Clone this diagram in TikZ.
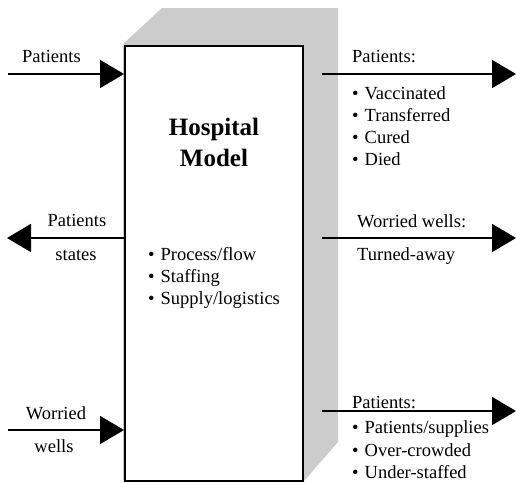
\documentclass[tikz,border=0pt]{standalone}
\usepackage{fontspec}
\setmainfont{Liberation Serif}
\usetikzlibrary{arrows.meta}
\newcommand{\itembul}{\textbullet\hspace{6pt}}
\tikzset{
  flow/.style={line width=1.8pt, -{Triangle[length=24pt,width=28pt]}},
  lbl/.style={inner sep=0pt, anchor=base west, font=\fontsize{18.5}{22}\selectfont},
  lblc/.style={inner sep=0pt, anchor=base, font=\fontsize{18.5}{22}\selectfont},
  modelbox/.style={draw, line width=2pt, fill=white, inner sep=0pt},
}
\begin{document}
\begin{tikzpicture}[x=1pt,y=-1pt]
\useasboundingbox (0,0) rectangle (516,482);
% raised back face of the model block
\fill[gray!40] (123,44) -- (162,8) -- (338,8) -- (338,442) -- (304,481) -- (123,481) -- cycle;
% model block
\node[modelbox, minimum width=178pt, minimum height=435pt, anchor=north west] (box) at (124,45) {};
\node[inner sep=0pt, anchor=base, align=center, font=\fontsize{25}{31}\selectfont\bfseries] (title) at (214,166) {Hospital\\Model};
\node[lbl] (m1) at (148,260) {\itembul Process/flow};
\node[lbl] (m2) at (148,282) {\itembul Staffing};
\node[lbl] (m3) at (148,304) {\itembul Supply/logistics};

% inputs
\coordinate (in1) at (8,74);
\coordinate (in1e) at (124,74);
\draw[flow] (in1) -- (in1e);
\node[lbl] (lin1) at (22,62) {Patients};

\coordinate (in2) at (8,430);
\coordinate (in2e) at (124,430);
\draw[flow] (in2) -- (in2e);
\node[lblc] (lin2a) at (56,419) {Worried};
\node[lblc] (lin2b) at (54,452) {wells};

% state feedback
\coordinate (st0) at (124,238);
\coordinate (st1) at (7,238);
\draw[flow] (st0) -- (st1);
\node[lblc] (lst1) at (77,226) {Patients};
\node[lblc] (lst2) at (76,260) {states};

% outputs
\coordinate (o1s) at (322,74);
\coordinate (o1e) at (516,74);
\draw[flow] (o1s) -- (o1e);
\node[lbl] (lo1) at (352,62) {Patients:};
\node[lbl] (lo1a) at (352,99) {\itembul Vaccinated};
\node[lbl] (lo1b) at (352,121) {\itembul Transferred};
\node[lbl] (lo1c) at (352,143) {\itembul Cured};
\node[lbl] (lo1d) at (352,165) {\itembul Died};

\coordinate (o2s) at (322,238);
\coordinate (o2e) at (516,238);
\draw[flow] (o2s) -- (o2e);
\node[lbl] (lo2) at (357,227) {Worried wells:};
\node[lbl] (lo2a) at (357,260) {Turned-away};

\coordinate (o3s) at (322,411);
\coordinate (o3e) at (516,411);
\draw[flow] (o3s) -- (o3e);
\node[lbl] (lo3) at (352,408) {Patients:};
\node[lbl] (lo3a) at (352,433) {\itembul Patients/supplies};
\node[lbl] (lo3b) at (352,456) {\itembul Over-crowded};
\node[lbl] (lo3c) at (352,478) {\itembul Under-staffed};
\end{tikzpicture}
\end{document}
